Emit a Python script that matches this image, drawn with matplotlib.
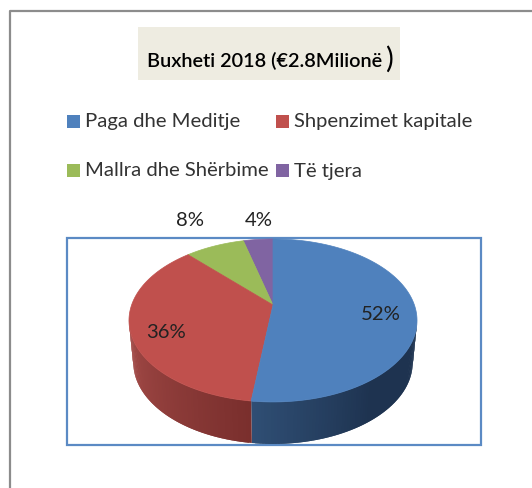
import matplotlib
matplotlib.use('Agg')
import matplotlib.pyplot as plt
import numpy as np
from matplotlib.patches import Rectangle, Polygon

titel = 'Buxheti 2018 (€2.8Milionë'
kategorien = ['Paga dhe Meditje', 'Shpenzimet kapitale', 'Mallra dhe Shërbime', 'Të tjera']
werte = [52, 36, 8, 4]
farben = ['#4f81bd', '#c0504d', '#9bbb59', '#8064a2']

plt.rcParams['font.family'] = ['Lato', 'DejaVu Sans']

fig = plt.figure(figsize=(5.32, 4.89), dpi=100)
ax = fig.add_axes([0, 0, 1, 1])
ax.set_xlim(0, 532)
ax.set_ylim(489, 0)
ax.axis('off')

# rahmen aussen (grau)
ax.plot([9.5, 9.5, 532], [489, 11.5, 11.5], color='#8c8c8c', lw=1.6)

# titel
ax.add_patch(Rectangle((138, 28), 262, 53, color='#eeece1', lw=0))
ax.text(147, 61, titel, fontsize=14.3, va='center', ha='left', color='black', weight='semibold')
ax.text(385, 59, ')', fontsize=21, va='center', ha='left', color='black')

# legende
leg_pos = [(67, 122), (276, 122), (67, 171), (276, 171)]
for name, farbe, (lx, ly) in zip(kategorien, farben, leg_pos):
    ax.add_patch(Rectangle((lx, ly - 6.5), 13, 13, color=farbe, lw=0))
    ax.text(lx + 18, ly, name, fontsize=14.6, va='center', ha='left', color='#333333')

# plot rahmen (blau)
ax.add_patch(Rectangle((67, 239), 414, 207, fill=False, ec='#5b8ac4', lw=1.6))


# kreis -> bildschirm, mit etwas perspektive (hinten kleiner)
def punkt(theta, dy=0.0, s=1.0):
    u, v = np.sin(theta), np.cos(theta)
    w = 1 + 0.19 * v
    return 273 + s * 141.4 * u / w, (306 - 20.4 * v) / w + dy


anteile = np.cumsum([0] + werte) / sum(werte) * 2 * np.pi


# seitenwand, nur vorne sichtbar (streifen ueberlappen damit keine linien sichtbar sind)
def wand(t0, t1, c0, c1, umgekehrt=False, knick=0.0):
    ts = np.linspace(t0, t1, 80)
    c0, c1 = np.array(matplotlib.colors.to_rgb(c0)), np.array(matplotlib.colors.to_rgb(c1))
    reihe = range(len(ts) - 1)
    for i in (reversed(reihe) if umgekehrt else reihe):
        j = max(i - 1, 0) if umgekehrt else min(i + 2, len(ts) - 1)
        k = i + 1 if umgekehrt else i
        a0, b0 = punkt(ts[k]), punkt(ts[j])
        a1, b1 = punkt(ts[k], 42, 0.97), punkt(ts[j], 42, 0.97)
        f = max(0, (i / (len(ts) - 2) - knick) / (1 - knick))
        ax.add_patch(Polygon([a0, b0, b1, a1], fc=c0 + (c1 - c0) * f, ec='none', lw=0))


breit = np.arccos(-0.19)  # breiteste stelle
wand(breit, anteile[1], '#1e3350', '#2f4e74', umgekehrt=True, knick=0.5)
wand(anteile[1], 2 * np.pi - breit, '#7a2f2d', '#a64c49')

# oberseite
for i in [3, 2, 1, 0]:
    ts = np.linspace(anteile[i], anteile[i + 1], 120)
    pts = [punkt(t) for t in ts]
    ax.add_patch(Polygon([(273, 306)] + pts, color=farben[i], lw=0.5))

# prozent labels
label_pos = [(381, 315), (166, 333), (190, 220), (259, 220)]
for wert, (tx, ty) in zip(werte, label_pos):
    ax.text(tx, ty, f'{wert}%', fontsize=14.6, ha='center', va='center', color='#222222')

plt.savefig('out.png', dpi=100)
